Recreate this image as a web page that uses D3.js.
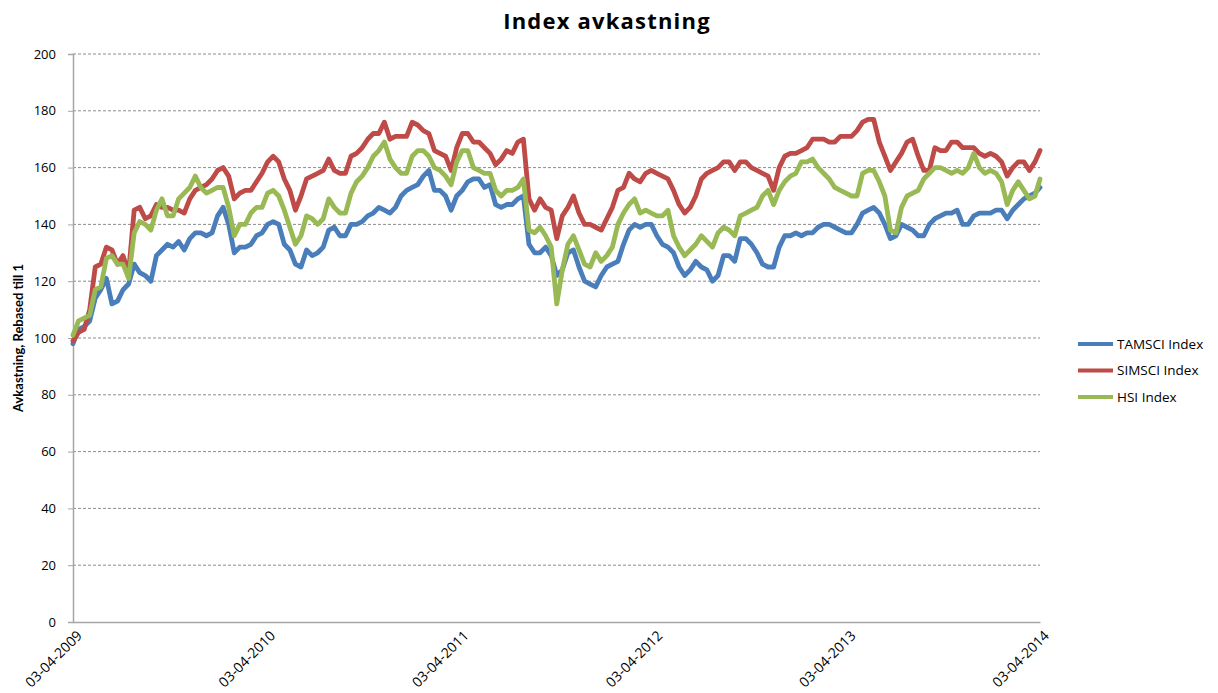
<!DOCTYPE html>
<html>
<head>
<meta charset="utf-8">
<script src="https://cdn.jsdelivr.net/npm/d3@7"></script>
<style>
  body { margin: 0; background: #fff; }
  #chart { font-family: "Open Sans", Lato, sans-serif; }
</style>
</head>
<body>
<div id="chart"></div>
<script>
// Values, one reading every 10.5 days from 03-04-2009 to 03-04-2014
const startDate = new Date(2009, 3, 3)
const endDate = new Date(2014, 3, 3)

const tamsci = [
  98, 103, 104, 106, 114, 117, 121, 112, 113, 117,
  119, 126, 123, 122, 120, 129, 131, 133, 132, 134,
  131, 135, 137, 137, 136, 137, 143, 146, 140, 130,
  132, 132, 133, 136, 137, 140, 141, 140, 133, 131,
  126, 125, 131, 129, 130, 132, 138, 139, 136, 136,
  140, 140, 141, 143, 144, 146, 145, 144, 146, 150,
  152, 153, 154, 157, 159, 152, 152, 150, 145, 150,
  152, 155, 156, 156, 153, 154, 147, 146, 147, 147,
  149, 150, 133, 130, 130, 132, 129, 122, 124, 130,
  131, 125, 120, 119, 118, 122, 125, 126, 127, 133,
  138, 140, 139, 140, 140, 136, 133, 132, 130, 125,
  122, 124, 127, 125, 124, 120, 122, 129, 129, 127,
  135, 135, 133, 130, 126, 125, 125, 132, 136, 136,
  137, 136, 137, 137, 139, 140, 140, 139, 138, 137,
  137, 140, 144, 145, 146, 144, 140, 135, 136, 140,
  139, 138, 136, 136, 140, 142, 143, 144, 144, 145,
  140, 140, 143, 144, 144, 144, 145, 145, 142, 145,
  147, 149, 150, 151, 153]

const simsci = [
  99, 102, 103, 110, 125, 126, 132, 131, 126, 129,
  123, 145, 146, 142, 143, 147, 146, 146, 145, 145,
  144, 149, 152, 153, 154, 156, 159, 160, 157, 149,
  151, 152, 152, 155, 158, 162, 164, 162, 156, 152,
  145, 150, 156, 157, 158, 159, 163, 159, 158, 158,
  164, 165, 167, 170, 172, 172, 176, 170, 171, 171,
  171, 176, 175, 173, 172, 166, 165, 164, 159, 167,
  172, 172, 169, 169, 167, 165, 161, 163, 166, 165,
  169, 170, 149, 145, 149, 146, 145, 135, 143, 146,
  150, 144, 140, 140, 139, 138, 142, 146, 152, 153,
  158, 156, 155, 158, 159, 158, 157, 156, 152, 147,
  144, 146, 150, 156, 158, 159, 160, 162, 162, 159,
  162, 162, 160, 159, 158, 157, 152, 160, 164, 165,
  165, 166, 167, 170, 170, 170, 169, 169, 171, 171,
  171, 173, 176, 177, 177, 169, 164, 159, 162, 165,
  169, 170, 164, 159, 159, 167, 166, 166, 169, 169,
  167, 167, 167, 165, 164, 165, 164, 162, 157, 160,
  162, 162, 159, 162, 166]

const hsi = [
  101, 106, 107, 108, 117, 118, 128, 129, 126, 126,
  121, 137, 141, 140, 138, 145, 149, 143, 143, 149,
  151, 153, 157, 153, 151, 152, 153, 153, 146, 136,
  140, 140, 144, 146, 146, 151, 152, 150, 145, 139,
  133, 136, 143, 142, 140, 142, 149, 146, 144, 144,
  151, 155, 157, 160, 164, 166, 169, 163, 160, 158,
  158, 164, 166, 166, 164, 160, 159, 157, 154, 162,
  166, 166, 160, 159, 158, 158, 152, 150, 152, 152,
  153, 156, 138, 137, 139, 136, 132, 112, 124, 133,
  136, 131, 126, 125, 130, 127, 129, 132, 140, 144,
  147, 149, 144, 145, 144, 143, 143, 145, 136, 132,
  129, 131, 133, 136, 134, 132, 137, 139, 138, 136,
  143, 144, 145, 146, 150, 152, 147, 152, 155, 157,
  158, 162, 162, 163, 160, 158, 156, 153, 152, 151,
  150, 150, 158, 159, 159, 155, 150, 138, 137, 146,
  150, 151, 152, 156, 158, 160, 160, 159, 158, 159,
  158, 160, 165, 160, 158, 159, 158, 155, 147, 152,
  155, 152, 149, 150, 156]

const seriesNames = ['TAMSCI Index', 'SIMSCI Index', 'HSI Index']
const seriesColors = ['#4a7ebb', '#be4b48', '#98b954']
const yTicks = [0, 20, 40, 60, 80, 100, 120, 140, 160, 180, 200]
const xTickLabels = ['03-04-2009', '03-04-2010', '03-04-2011', '03-04-2012', '03-04-2013', '03-04-2014']

// reading dates: every 252 hours (10.5 days), last one on the end date
const sampleDates = tamsci.map((v, i) => i === tamsci.length - 1 ? endDate : d3.timeHour.offset(startDate, i * 252))
const parseLabel = d3.timeParse('%d-%m-%Y')

const margin = { top: 54, right: 178, bottom: 71, left: 73 }
const W = 1218
const H = 693
const width = W - margin.left - margin.right
const height = H - margin.top - margin.bottom

const svg = d3.select('#chart')
  .append('svg')
  .attr('width', W)
  .attr('height', H)

const g = svg.append('g')
  .attr('transform', `translate(${margin.left},${margin.top})`)

const x = d3.scaleTime()
  .domain([startDate, endDate])
  .range([0, width])

const y = d3.scaleLinear()
  .domain([0, 200])
  .range([height, 0])

// gridlines
g.append('g')
  .selectAll('line')
  .data(yTicks.filter(d => d > 0))
  .join('line')
  .attr('x1', 0)
  .attr('x2', width)
  .attr('y1', d => y(d))
  .attr('y2', d => y(d))
  .attr('stroke', '#8c8c8c')
  .attr('stroke-width', 1)
  .attr('stroke-dasharray', '3,2')

// y axis
const yAxis = g.append('g')
  .call(d3.axisLeft(y).tickValues(yTicks).tickSize(5).tickPadding(12))
yAxis.select('.domain').attr('stroke', '#a6a6a6').attr('stroke-width', 1.5)
yAxis.selectAll('.tick line').attr('stroke', '#a6a6a6')
yAxis.selectAll('text')
  .style('font-size', '13px')
  .style('font-family', '"Open Sans", sans-serif')
  .attr('fill', '#000')

// x axis
const xAxis = g.append('g')
  .attr('transform', `translate(0,${height})`)
  .call(d3.axisBottom(x)
    .tickValues(xTickLabels.map(parseLabel))
    .tickFormat(d3.timeFormat('%d-%m-%Y'))
    .tickSize(0))
xAxis.select('.domain').attr('stroke', '#a6a6a6').attr('stroke-width', 1.5)
xAxis.selectAll('text')
  .attr('transform', 'translate(6,11) rotate(-45)')
  .attr('dy', '0.35em')
  .attr('y', 0)
  .attr('x', 0)
  .style('text-anchor', 'end')
  .style('font-size', '14px')
  .style('font-family', '"Open Sans", sans-serif')
  .attr('fill', '#000')

// lines
const line = d3.line()
  .x((d, i) => x(sampleDates[i]))
  .y(d => y(d))

;[tamsci, simsci, hsi].forEach((values, k) => {
  g.append('path')
    .datum(values)
    .attr('fill', 'none')
    .attr('stroke', seriesColors[k])
    .attr('stroke-width', 4.8)
    .attr('stroke-linejoin', 'round')
    .attr('stroke-linecap', 'round')
    .attr('d', line)
})

// y axis title
svg.append('text')
  .attr('transform', `translate(23,${margin.top + height / 2}) rotate(-90)`)
  .attr('text-anchor', 'middle')
  .style('font-family', 'Lato, sans-serif')
  .style('font-size', '13px')
  .style('font-weight', 'bold')
  .text('Avkastning, Rebased till 1')

// legend
const legend = svg.append('g')
  .attr('transform', 'translate(1078,344)')

seriesNames.forEach((name, i) => {
  const row = legend.append('g')
    .attr('transform', `translate(0,${i * 26.5})`)
  row.append('line')
    .attr('x1', 0)
    .attr('x2', 35)
    .attr('stroke', seriesColors[i])
    .attr('stroke-width', 4)
  row.append('text')
    .attr('x', 39)
    .attr('y', 0)
    .attr('dy', '0.35em')
    .style('font-size', '13.5px')
    .text(name)
})

// title
svg.append('text')
  .attr('x', 607)
  .attr('y', 29)
  .attr('text-anchor', 'middle')
  .style('font-size', '22px')
  .style('font-weight', 'bold')
  .style('letter-spacing', '1.2px')
  .text('Index avkastning')
</script>
</body>
</html>
